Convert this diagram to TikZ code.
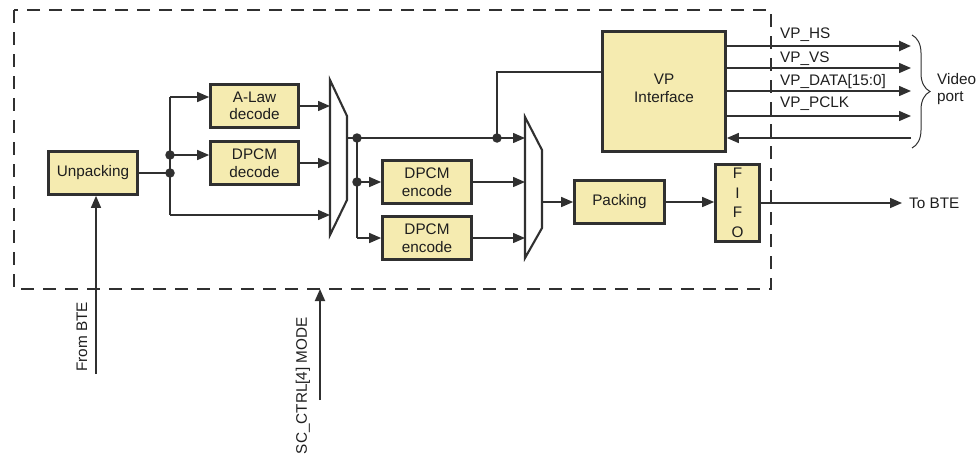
\documentclass[tikz,border=0pt]{standalone}
\usepackage{fontspec}
\setmainfont{Liberation Sans}
\usetikzlibrary{arrows.meta,decorations.pathreplacing,calc}
\definecolor{boxfill}{HTML}{F5EBB0}
\definecolor{ink}{HTML}{303030}
\definecolor{txt}{HTML}{1E1E1E}
\begin{document}
\begin{tikzpicture}[x=1pt,y=-1pt,
  font=\fontsize{15.3}{17.5}\selectfont,
  blk/.style={draw=ink, line width=2.7pt, fill=boxfill, align=center, inner sep=0pt, text=txt},
  conn/.style={draw=ink, line width=1.5pt},
  arr/.style={conn, -{Triangle[length=12pt,width=10pt]}},
  dot/.style={circle, fill=ink, inner sep=0pt, minimum size=9.5pt},
  lbl/.style={text=txt, inner sep=0pt},
  mux/.style={draw=ink, line width=2.1pt, fill=white}]
\useasboundingbox (0,0) rectangle (979,455);

% dashed boundary
\draw[ink, line width=2pt, dash pattern=on 13pt off 9pt] (14,10) rectangle (771,289);

% blocks
\node[blk, minimum width=89, minimum height=43] (unp) at (93,173) {Unpacking};
\node[blk, minimum width=88, minimum height=43] (alaw) at (254.5,106) {A-Law\\decode};
\node[blk, minimum width=88, minimum height=43] (dpd) at (254.5,163) {DPCM\\decode};
\node[blk, minimum width=89, minimum height=43] (enc1) at (427,182) {DPCM\\encode};
\node[blk, minimum width=89, minimum height=43] (enc2) at (427,238) {DPCM\\encode};
\node[blk, minimum width=90, minimum height=43] (pack) at (619.5,202) {Packing};
\node[blk, minimum width=44, minimum height=77, font=\fontsize{15.3}{19.5}\selectfont] (fifo) at (737.5,203) {F\\I\\F\\O};
\node[blk, minimum width=123, minimum height=120] (vp) at (664,91.5) {};
\node[lbl, align=center] (vptxt) at (664,88.5) {VP\\Interface};

% multiplexers
\coordinate (m1a) at (330,80); \coordinate (m1b) at (347,116);
\coordinate (m1c) at (347,200); \coordinate (m1d) at (330,235);
\draw[mux] (m1a) -- (m1b) -- (m1c) -- (m1d) -- cycle;
\coordinate (m2a) at (525,117); \coordinate (m2b) at (542,150);
\coordinate (m2c) at (542,228); \coordinate (m2d) at (525,258);
\draw[mux] (m2a) -- (m2b) -- (m2c) -- (m2d) -- cycle;
\coordinate (m1o) at (347,138);
\coordinate (m2o) at (542,202);

% junctions
\coordinate (tA) at (170,97);
\coordinate (tB) at (170,215);
\node[dot] (j1) at (170,173) {};
\node[dot] (j2) at (170,155) {};
\node[dot] (j3) at (357,138) {};
\node[dot] (j5) at (357,182) {};
\node[dot] (j4) at (497,138) {};
\coordinate (tC) at (357,238);
\coordinate (vpIn) at (601,72);

% left side
\coordinate (fb) at (96,374);
\draw[arr] (fb) -- (fb |- unp.south);
\draw[conn] (unp.east) -- (j1.center);
\draw[conn] (tA) -- (tB);
\draw[arr] (tA) -- (tA -| alaw.west);
\draw[arr] (j2.center) -- (j2 -| dpd.west);
\draw[arr] (tB) -- (tB -| m1a);
\draw[arr] (alaw.east) -- (alaw.east -| m1a);
\draw[arr] (dpd.east) -- (dpd.east -| m1a);

% middle
\draw[conn] (m1o) -- (j4.center);
\draw[arr] (j4.center) -- (j4 -| m2a);
\draw[conn] (j3.center) -- (tC);
\draw[arr] (j5.center) -- (enc1.west);
\draw[arr] (tC) -- (enc2.west);
\draw[arr] (enc1.east) -- (enc1.east -| m2a);
\draw[arr] (enc2.east) -- (enc2.east -| m2a);
\draw[conn] (j4.center) |- (vpIn);
\draw[arr] (m2o) -- (pack.west);
\draw[arr] (pack.east) -- (pack.east -| fifo.west);

% output to BTE
\coordinate (tb) at (902,203);
\draw[arr] (fifo.east |- tb) -- (tb);
\node[lbl, anchor=west] (tobte) at (909,203) {To BTE};

% video port
\coordinate (o1) at (911,46);
\coordinate (o2) at (911,68);
\coordinate (o3) at (911,91);
\coordinate (o4) at (911,116);
\coordinate (o5) at (911,138);
\draw[arr, line width=2.4pt] (vp.east |- o1) -- (o1);
\draw[arr] (vp.east |- o2) -- (o2);
\draw[arr] (vp.east |- o3) -- (o3);
\draw[arr] (vp.east |- o4) -- (o4);
\draw[arr] (o5) -- (vp.east |- o5);
\node[lbl, anchor=base west] (lhs) at (780,38.5) {VP\_HS};
\node[lbl, anchor=base west] (lvs) at (780,62) {VP\_VS};
\node[lbl, anchor=base west] (ldata) at (780,85) {VP\_DATA[15:0]};
\node[lbl, anchor=base west] (lpclk) at (780,107) {VP\_PCLK};
\draw[ink, line width=1pt, decorate, decoration={brace, amplitude=18pt}] (912,35) -- (912,148);
\node[lbl, anchor=west, align=left] (vport) at (937,89) {Video\\port};

% bottom inputs
\node[lbl, rotate=90, anchor=east] (fbl) at (82,302) {From BTE};
\coordinate (sc) at (320,400);
\coordinate (scT) at (320,289);
\draw[arr, line width=1.8pt] (sc) -- (scT);
\node[lbl, rotate=90, anchor=east] (scl) at (303,317) {SC\_CTRL[4] MODE};
\end{tikzpicture}
\end{document}
